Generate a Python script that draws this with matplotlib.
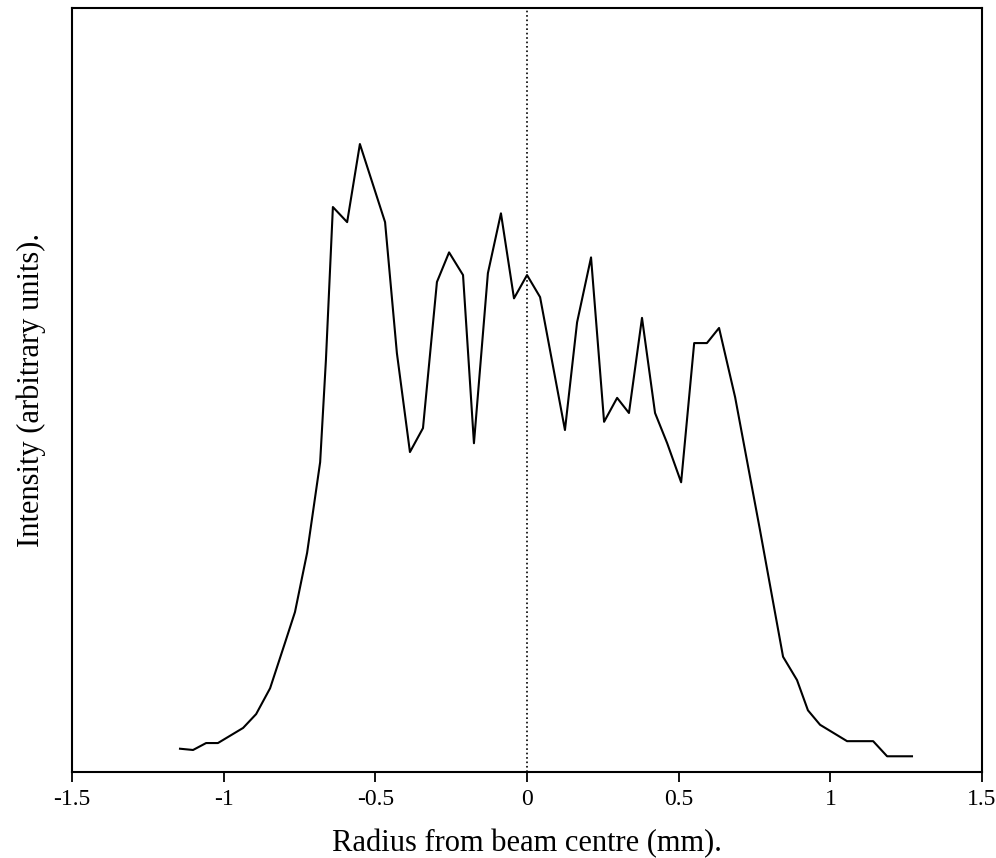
import numpy as np
import matplotlib.pyplot as plt

# radius (mm) and intensity (arbitrary units)
radius = [-1.144, -1.101, -1.058, -1.019, -0.936, -0.893, -0.847, -0.798,
          -0.765, -0.725, -0.682, -0.663, -0.640, -0.593, -0.551, -0.468, -0.429,
          -0.386, -0.343, -0.297, -0.257, -0.211, -0.175, -0.129, -0.086,
          -0.043, 0.0, 0.043, 0.125, 0.165, 0.211, 0.254, 0.297, 0.336,
          0.379, 0.422, 0.462, 0.508, 0.551, 0.593, 0.633, 0.686, 0.768,
          0.844, 0.890, 0.926, 0.966, 1.055, 1.141, 1.187, 1.269]
intensity = [3.7, 3.5, 4.6, 4.6, 7.0, 9.2, 13.3, 20.5,
             25.4, 34.8, 49.2, 65.4, 89.7, 87.3, 99.7, 87.3, 66.5,
             50.8, 54.6, 77.8, 82.5, 78.9, 52.2, 79.2, 88.7,
             75.2, 78.9, 75.4, 54.3, 71.4, 81.7, 55.6, 59.4, 57.0,
             72.1, 57.0, 52.2, 46.0, 68.1, 68.1, 70.5, 59.5, 38.4,
             18.3, 14.6, 9.8, 7.5, 4.9, 4.9, 2.5, 2.5]

xticks = [-1.5, -1, -0.5, 0, 0.5, 1, 1.5]
xticklabels = ['-1.5', '-1', '-0.5', '0', '0.5', '1', '1.5']

plt.rcParams['font.family'] = ['Liberation Serif', 'DejaVu Serif']

fig = plt.figure(figsize=(9.96, 8.58), dpi=100)
ax = fig.add_axes([0.0723, 0.1002, 0.9137, 0.8905])

ax.plot(radius, intensity, c='k', lw=1.5)
ax.axvline(0, c='k', ls=':', lw=1.2)

ax.set_xlim(-1.5, 1.5)
ax.set_ylim(0, 121.3)
ax.set_xticks(xticks)
ax.set_xticklabels(xticklabels, fontsize=17)
ax.set_yticks([])
ax.tick_params(axis='x', direction='out', length=7, width=1.3, pad=5)
for s in ax.spines.values():
    s.set_linewidth(1.5)

ax.set_xlabel('Radius from beam centre (mm).', fontsize=22, labelpad=14)
ax.set_ylabel('Intensity (arbitrary units).', fontsize=22, labelpad=19)

fig.savefig('out.png', dpi=100)
